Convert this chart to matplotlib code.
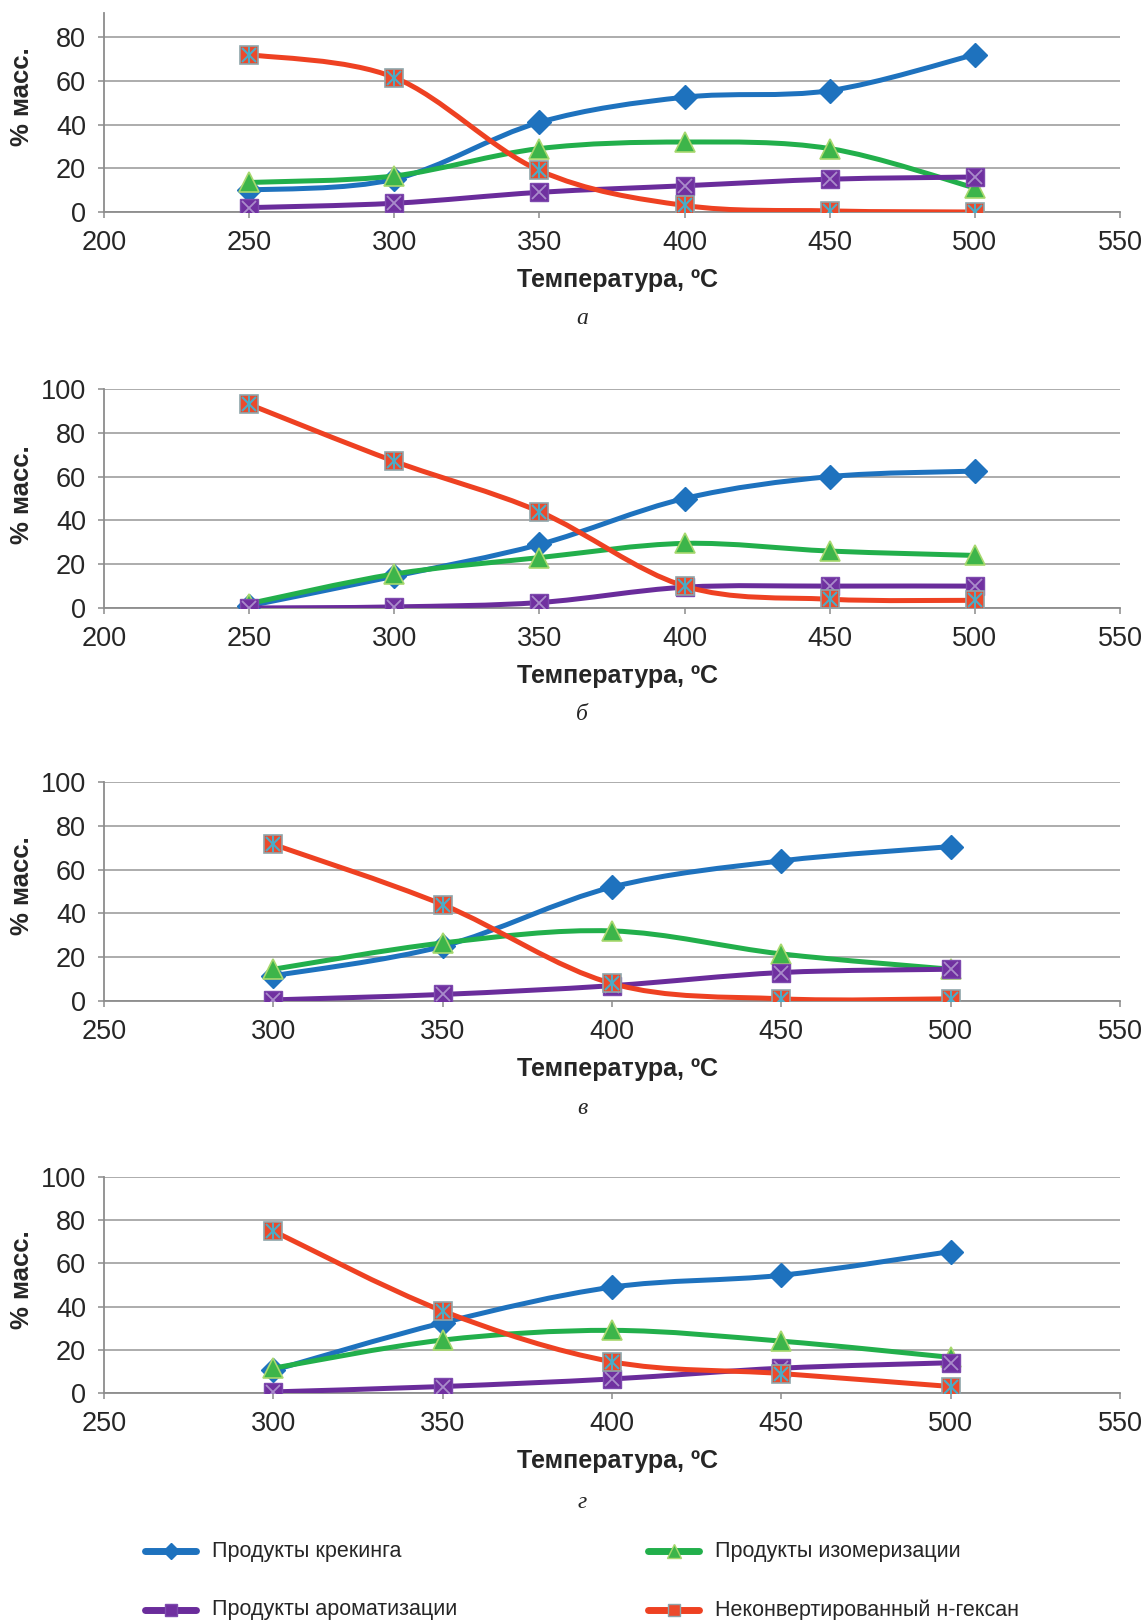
import matplotlib
matplotlib.use('Agg')
import matplotlib.pyplot as plt
import numpy as np
from matplotlib.path import Path
from matplotlib.patches import PathPatch
from matplotlib.lines import Line2D


# --- data -----------------------------------------------------------------
temps_a = [250, 300, 350, 400, 450, 500]
crack_a = [10, 15, 41, 52.5, 55.5, 72]
isom_a = [13.5, 16.5, 29, 32, 29, 11]
arom_a = [2, 4, 9, 12, 15, 16]
hexane_a = [72, 61.5, 19, 3, 0.5, 0]

temps_b = [250, 300, 350, 400, 450, 500]
crack_b = [1, 14.5, 29, 50, 60, 62.5]
isom_b = [2, 15.5, 23, 29.5, 26, 24]
arom_b = [0, 0.5, 2.5, 9.5, 10, 10]
hexane_b = [93, 67, 44, 10, 4, 3.5]

temps_v = [300, 350, 400, 450, 500]
crack_v = [11.5, 25, 52, 64, 70.5]
isom_v = [14.5, 26.5, 32, 21.5, 14.5]
arom_v = [0.5, 3, 7, 13, 14.5]
hexane_v = [71.5, 44, 8, 1, 1]

temps_g = [300, 350, 400, 450, 500]
crack_g = [10.5, 32.5, 49, 54.5, 65.5]
isom_g = [11.5, 24.5, 29, 24, 16.5]
arom_g = [0.5, 3, 6.5, 11.5, 14]
hexane_g = [75, 38, 14.5, 9, 3]

series_names = ['Продукты крекинга', 'Продукты изомеризации',
                'Продукты ароматизации', 'Неконвертированный н-гексан']
captions = ['а', 'б', 'в', 'г']

# --- styles ---------------------------------------------------------------
FONT = ['Liberation Sans', 'DejaVu Sans']
TXT = '#262626'
GRID = '#A6A6A6'
BLUE, GREEN, PURPLE, RED = '#1E72BE', '#22AF4B', '#6A2C9B', '#EE4122'

W, H = 1146, 1620
fig = plt.figure(figsize=(W / 100, H / 100), dpi=100, facecolor='w')


def smooth_path(x, y):
    # Excel-like smoothed line: cubic bezier through the points
    pts = np.column_stack([x, y]).astype(float)
    n = len(pts)
    verts = [pts[0]]
    codes = [Path.MOVETO]
    for i in range(n - 1):
        p0 = pts[max(i - 1, 0)]
        p1 = pts[i]
        p2 = pts[i + 1]
        p3 = pts[min(i + 2, n - 1)]
        verts += [p1 + (p2 - p0) / 6., p2 - (p3 - p1) / 6., p2]
        codes += [Path.CURVE4] * 3
    return Path(verts, codes)


def draw_series(ax, x, y, kind):
    if kind == 0:
        col = BLUE
    elif kind == 1:
        col = GREEN
    elif kind == 2:
        col = PURPLE
    else:
        col = RED
    ax.add_patch(PathPatch(smooth_path(x, y), fill=False, edgecolor=col,
                           lw=3.6, capstyle='round', zorder=3 + kind))
    z = 3.5 + kind
    if kind == 0:
        ax.plot(x, y, ls='none', marker='D', ms=12, mfc=BLUE, mec=BLUE, zorder=z)
    elif kind == 1:
        ax.plot(x, y, ls='none', marker='^', ms=14, mfc='#3DB54A', mec='#A8D86E', mew=1.2, zorder=z)
    elif kind == 2:
        ax.plot(x, y, ls='none', marker='s', ms=13, mfc='#7030A0', mec='#7E4AAE', zorder=z)
        ax.plot(x, y, ls='none', marker='x', ms=9.5, mec='#A98BCB', mew=1.3, zorder=z)
    else:
        ax.plot(x, y, ls='none', marker='s', ms=13, mfc='#EC4A2C', mec='#8FA5AA', mew=1.2, zorder=z)
        ax.plot(x, y, ls='none', marker='x', ms=9.5, mec='#4BACC6', mew=1.5, zorder=z)
        ax.plot(x, y, ls='none', marker='|', ms=12, mec='#4BACC6', mew=1.5, zorder=z)


def make_panel(top_px, bottom_px, xlim, ylim, yticks, temps, data, cap, cap_y, ylab_y):
    left_px, right_px = 104, 1120
    ax = fig.add_axes([left_px / W, 1 - bottom_px / H,
                       (right_px - left_px) / W, (bottom_px - top_px) / H])
    ax.set_xlim(*xlim)
    ax.set_ylim(*ylim)
    ax.set_xticks(np.arange(xlim[0], xlim[1] + 1, 50))
    ax.set_yticks(yticks)
    ax.yaxis.grid(True, color=GRID, lw=1.3)
    ax.set_axisbelow(True)
    for s in ['top', 'right']:
        ax.spines[s].set_visible(False)
    for s in ['left', 'bottom']:
        ax.spines[s].set_color('#8C8C8C')
        ax.spines[s].set_linewidth(1.3)
    ax.tick_params(axis='both', direction='out', length=4, width=1.1,
                   color='#8C8C8C', labelsize=19.5, labelcolor=TXT)
    ax.tick_params(axis='x', pad=9)
    ax.tick_params(axis='y', pad=9)
    for lab in ax.get_xticklabels() + ax.get_yticklabels():
        lab.set_family(FONT)
    ax.set_ylabel('% масс.', fontsize=18.5, fontweight='bold', color=TXT, family=FONT)
    ax.yaxis.set_label_coords(-0.069, ylab_y)
    ax.annotate('Температура, ºC', xy=(0.5, 0), xycoords='axes fraction',
                xytext=(4, -68 * 0.72), textcoords='offset points',
                ha='center', va='center', fontsize=18, fontweight='bold',
                color=TXT, family=FONT)
    fig.text(582 / W, 1 - cap_y / H, cap, ha='center', va='center',
             fontsize=17, style='italic', family=['Liberation Serif', 'DejaVu Serif'], color=TXT)
    for k, y in enumerate(data):
        draw_series(ax, temps, y, k)
    return ax


make_panel(13, 212, (200, 550), (0, 91), [0, 20, 40, 60, 80], temps_a,
           [crack_a, isom_a, arom_a, hexane_a], captions[0], 318, 0.578)
make_panel(389, 608, (200, 550), (0, 100), np.arange(0, 101, 20), temps_b,
           [crack_b, isom_b, arom_b, hexane_b], captions[1], 714, 0.516)
make_panel(782, 1001, (250, 550), (0, 100), np.arange(0, 101, 20), temps_v,
           [crack_v, isom_v, arom_v, hexane_v], captions[2], 1109, 0.525)
make_panel(1177, 1393, (250, 550), (0, 100), np.arange(0, 101, 20), temps_g,
           [crack_g, isom_g, arom_g, hexane_g], captions[3], 1502, 0.523)

# --- legend (drawn by hand to match the 2x2 layout) -----------------------
leg_keys = [
    (BLUE, dict(marker='D', ms=8, mfc=BLUE, mec=BLUE)),
    (GREEN, dict(marker='^', ms=10, mfc='#3DB54A', mec='#A8D86E')),
    (PURPLE, dict(marker='s', ms=9, mfc='#7030A0', mec='#7E4AAE')),
    (RED, dict(marker='s', ms=9, mfc='#EC4A2C', mec='#8FA5AA')),
]
leg_pos = [(145, 1551), (648, 1551), (145, 1610), (648, 1610)]
for (col, mk), (lx, ly), name in zip(leg_keys, leg_pos, series_names):
    yy = 1 - ly / H
    fig.add_artist(Line2D([lx / W, (lx + 51) / W], [yy, yy], color=col, lw=5,
                          solid_capstyle='round', transform=fig.transFigure))
    fig.add_artist(Line2D([(lx + 25.5) / W], [yy], ls='none',
                          transform=fig.transFigure, **mk))
    fig.text((lx + 67) / W, yy, name, ha='left', va='center', fontsize=15.5,
             color=TXT, family=FONT)

fig.savefig('out.png', dpi=100, facecolor='w')
